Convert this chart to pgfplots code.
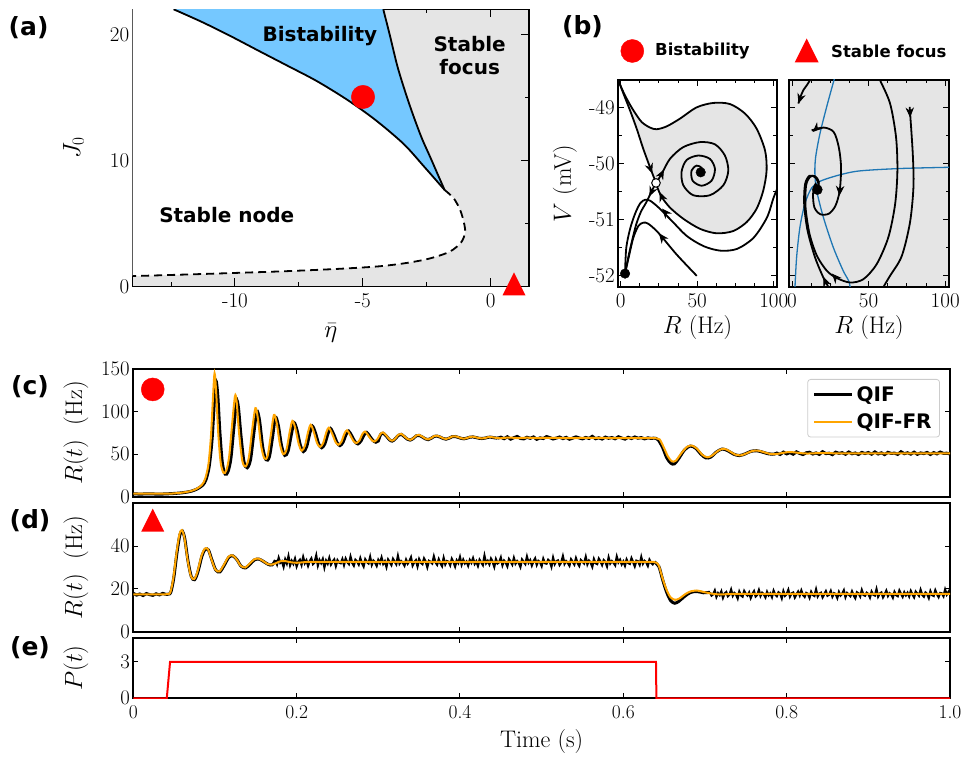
\documentclass[border=0pt]{standalone}
\usepackage{fontspec}
\usepackage{pgfplots}
\usepackage{pgfplotstable}
\pgfplotsset{compat=1.18}
\usetikzlibrary{arrows.meta}

\newfontfamily\labfont{DejaVu Sans}
\newcommand{\panelfont}{\labfont\bfseries\fontsize{25}{30}\selectfont}
\newcommand{\regionfont}{\labfont\bfseries\fontsize{20}{24}\selectfont}
\newcommand{\keyfont}{\labfont\bfseries\fontsize{16.5}{20}\selectfont}
\newcommand{\legfont}{\labfont\bfseries\fontsize{20}{24}\selectfont}
\newcommand{\ticksA}{\fontsize{21}{25}\selectfont}
\newcommand{\ticksC}{\fontsize{19.5}{23}\selectfont}
\newcommand{\axlab}{\fontsize{24}{28}\selectfont}

\definecolor{bistab}{RGB}{117,200,255}
\definecolor{basin}{RGB}{229,229,229}
\definecolor{qiffr}{RGB}{255,165,0}
\definecolor{ncl}{RGB}{31,119,180}

% upward triangle as wide as it is tall
\pgfdeclareplotmark{tri}{%
  \pgfpathmoveto{\pgfqpoint{0pt}{\pgfplotmarksize}}%
  \pgfpathlineto{\pgfqpoint{-\pgfplotmarksize}{-\pgfplotmarksize}}%
  \pgfpathlineto{\pgfqpoint{\pgfplotmarksize}{-\pgfplotmarksize}}%
  \pgfpathclose\pgfusepathqfill}

% flow-direction heads: short quiver segments
\pgfplotsset{heads/.style={black, line width=1pt, -{Stealth[length=10pt,width=8.5pt]},
  quiver={u=\thisrow{u}, v=\thisrow{v}}}}

% ---------- phase diagram boundaries (eta, J0) ----------
\pgfplotstableread{
eta J
-12.4 22
-11.3 21.0
-10.2 19.9
-9.07 18.7
-7.93 17.5
-6.8 16.3
-5.6 14.8
-4.5 13.2
-3.4 11.3
-2.6 9.5
-1.8 7.65
}\snbranch

\pgfplotstableread{
eta J
-1.8 7.65
-1.45 7.0
-1.2 6.1
-1.05 5.1
-1.0 4.3
-1.15 3.5
-1.6 2.75
-2.4 2.2
-3.3 1.85
-4.4 1.58
-6 1.38
-8 1.2
-10 1.06
-12 0.93
-14 0.81
}\dashbranch

\pgfplotstableread{
eta J
-4.2 22
-3.95 20
-3.65 17.5
-3.35 15.5
-3.05 13.7
-2.7 11.8
-2.35 10.2
-2.05 8.8
-1.8 7.65
}\focusedge

% ---------- stable manifold of the saddle (R, V) ----------
\pgfplotstableread{
R V
-1.5 -48.5
1.8 -48.74
6.1 -49.04
10.5 -49.37
14.8 -49.73
19.2 -50.06
21.3 -50.21
23.1 -50.34
}\sepa

\pgfplotstableread{
R V
-1.5 -48.5
0.7 -48.65
3.9 -48.83
8.3 -49.04
13.7 -49.25
19.2 -49.35
23.5 -49.38
30 -49.33
38.8 -49.19
49.6 -48.99
60.5 -48.91
71.4 -48.93
81.2 -49.1
88.8 -49.37
94.3 -49.76
95.3 -50.12
93.1 -50.48
88.8 -50.8
82.3 -51.04
73.5 -51.2
62.7 -51.24
51.8 -51.16
40.9 -50.98
32.2 -50.78
26.8 -50.59
24 -50.42
23.1 -50.34
}\sepb

\begin{document}
\begin{tikzpicture}
\useasboundingbox (0,0) rectangle (967pt,758pt);

% ================= (a) =================
\begin{axis}[scale only axis, anchor=south west, at={(132.7pt,471.7pt)},
  width=396.3pt, height=277pt,
  xmin=-14, xmax=1.5, ymin=0, ymax=22,
  xtick={-10,-5,0}, xticklabels={-10,-5,0}, minor xtick={-12.5,-7.5,-2.5},
  ytick={0,10,20}, yticklabels={0,10,20}, minor ytick={5,15},
  major tick length=8pt, minor tick length=4pt, tick style={black,line width=1pt},
  axis line style={line width=1.3pt},
  axis background/.style={fill=basin},
  tick label style={font=\ticksA},
  xticklabel style={yshift=-4pt},
  xlabel={$\bar{\eta}$}, ylabel={$J_0$},
  label style={font=\axlab},
  xlabel style={at={(axis description cs:0.5,-0.169)}, anchor=center},
  ylabel style={at={(axis description cs:-0.1496,0.5)}, anchor=center},
]
% stable node region
\addplot[fill=white, draw=none, smooth] coordinates {
(-12.95,22.5)(-12.4,22)(-11.3,21.0)(-10.2,19.9)(-9.07,18.7)(-7.93,17.5)(-6.8,16.3)
(-5.6,14.8)(-4.5,13.2)(-3.4,11.3)(-2.6,9.5)(-1.8,7.65)(-1.45,7.0)(-1.2,6.1)(-1.05,5.1)
(-1.0,4.3)(-1.15,3.5)(-1.6,2.75)(-2.4,2.2)(-3.3,1.85)(-4.4,1.58)(-6,1.38)(-8,1.2)
(-10,1.06)(-12,0.93)(-14,0.81)(-15,0.74)(-16,0.68)(-16.5,23.5)(-13.5,23.5)};
% bistable region
\addplot[fill=bistab, draw=none, smooth] coordinates {
(-12.95,22.5)(-12.4,22)(-11.3,21.0)(-10.2,19.9)(-9.07,18.7)(-7.93,17.5)(-6.8,16.3)
(-5.6,14.8)(-4.5,13.2)(-3.4,11.3)(-2.6,9.5)(-1.8,7.65)(-2.05,8.8)(-2.35,10.2)(-2.7,11.8)
(-3.05,13.7)(-3.35,15.5)(-3.65,17.5)(-3.95,20)(-4.2,22)(-4.26,22.5)(-4.3,23.5)(-13.5,23.5)};
\addplot[black, line width=1.8pt, smooth] table {\snbranch};
\addplot[black, line width=1.8pt, smooth] table {\focusedge};
\addplot[black, line width=1.8pt, smooth, dash pattern=on 8pt off 5pt] table {\dashbranch};
\node[font=\regionfont] at (axis cs:-6.68,19.88) {Bistability};
\node[font=\regionfont, align=center] at (axis cs:-0.82,18.35) {Stable\\[-1pt]focus};
\node[font=\regionfont] at (axis cs:-10.32,5.66) {Stable node};
\end{axis}

% ================= (b) left: bistable case =================
\begin{axis}[scale only axis, anchor=south west, at={(618.3pt,471pt)},
  width=158.4pt, height=207pt,
  xmin=-1.5, xmax=101.9, ymin=-52.2, ymax=-48.5,
  xtick={0,50,100}, xticklabels={0,50,100},
  minor xtick={12.5,25,37.5,62.5,75,87.5},
  ytick={-52,-51,-50,-49}, yticklabels={-52,-51,-50,-49},
  minor ytick={-51.5,-50.5,-49.5},
  major tick length=6pt, minor tick length=3.5pt, tick style={black,line width=1pt},
  axis line style={line width=1.8pt},
  tick label style={font=\ticksA},
  xticklabel style={yshift=-3pt},
  xlabel={$R$ (Hz)}, ylabel={$V$ (mV)}, label style={font=\axlab},
  xlabel style={at={(axis description cs:0.5,-0.198)}, anchor=center},
  ylabel style={at={(axis description cs:-0.3365,0.5)}, anchor=center},
]
% basin of the focus, bounded by the stable manifold of the saddle
\addplot[fill=basin, draw=none, smooth] coordinates {
(-1.5,-48.5)(0.7,-48.65)(3.9,-48.83)(8.3,-49.04)(13.7,-49.25)(19.2,-49.35)(23.5,-49.38)
(30,-49.33)(38.8,-49.19)(49.6,-48.99)(60.5,-48.91)(71.4,-48.93)(81.2,-49.1)(88.8,-49.37)
(94.3,-49.76)(95.3,-50.12)(93.1,-50.48)(88.8,-50.8)(82.3,-51.04)(73.5,-51.2)(62.7,-51.24)
(51.8,-51.16)(40.9,-50.98)(32.2,-50.78)(26.8,-50.59)(24,-50.42)(23.1,-50.34)
(21.3,-50.21)(19.2,-50.06)(14.8,-49.73)(10.5,-49.37)(6.1,-49.04)(1.8,-48.74)};
\addplot[black, line width=1.8pt, smooth] table {\sepa};
\addplot[black, line width=1.8pt, smooth] table {\sepb};
% unstable manifold: into the focus
\addplot[black, line width=1.8pt, smooth] coordinates {
(23.1,-50.34)(26.8,-50.18)(32.2,-49.91)(40.9,-49.7)(51.8,-49.61)(61.6,-49.65)
(68.1,-49.85)(70.3,-50.12)(67.1,-50.38)(58.3,-50.56)(47.4,-50.56)(40.9,-50.38)
(39.8,-50.14)(43.1,-49.93)(50.7,-49.85)(58.3,-49.91)(61.6,-50.09)(59.4,-50.3)
(52.9,-50.39)(47,-50.3)(46.3,-50.12)(49.6,-50.03)(52.9,-50.07)(52.3,-50.15)};
% unstable manifold: into the node
\addplot[black, line width=1.8pt, smooth] coordinates {
(23.1,-50.34)(21,-50.45)(19.2,-50.55)(16.5,-50.7)(13.2,-50.86)(10.2,-51.08)
(7.6,-51.36)(5.4,-51.62)(3.9,-51.82)(2.9,-51.96)};
% trajectories from the lower right
\addplot[black, line width=1.8pt, smooth] coordinates {
(103,-50.4)(99.9,-50.6)(95.5,-50.96)(86.8,-51.32)(75.9,-51.52)(65,-51.55)
(54.2,-51.47)(43.3,-51.29)(33.5,-51.02)(24.8,-50.78)(19.4,-50.66)(16.1,-50.64)
(12.9,-50.7)(9.6,-50.88)(6.3,-51.15)(3.7,-51.5)(2.9,-51.96)};
\addplot[black, line width=1.8pt, smooth] coordinates {
(49.7,-52.0)(36.6,-51.62)(24.6,-51.23)(18.1,-51.07)(14.8,-51.05)(11.6,-51.11)
(8.3,-51.32)(5.7,-51.62)(2.9,-51.96)};
\addplot[heads] table {
x y u v
19.3 -50.07 1.3 -0.1
27.0 -50.60 -1.6 0.1
26.6 -50.19 1.7 0.09
20.3 -50.49 -1.5 -0.09
29.0 -50.86 -1.9 0.06
27.0 -51.31 -2.0 0.07
};
\addplot[only marks, mark=*, mark size=4.8pt, black] coordinates {(52.3,-50.15)(2.9,-51.96)};
\addplot[only marks, mark=*, mark size=4.3pt, draw=black, fill=white, line width=1pt]
  coordinates {(23.1,-50.34)};
\end{axis}

% ================= (b) right: stable focus =================
\begin{axis}[scale only axis, anchor=south west, at={(789pt,471pt)},
  width=160pt, height=207pt,
  xmin=-2, xmax=102.5, ymin=-52.2, ymax=-48.5,
  xtick={0,50,100}, xticklabels={0,50,100},
  minor xtick={12.5,25,37.5,62.5,75,87.5},
  ytick={-52,-51,-50,-49}, yticklabels={},
  minor ytick={-51.5,-50.5,-49.5},
  major tick length=6pt, minor tick length=3.5pt, tick style={black,line width=1pt},
  axis line style={line width=1.8pt},
  axis background/.style={fill=basin},
  tick label style={font=\ticksA},
  xticklabel style={yshift=-3pt},
  xlabel={$R$ (Hz)}, label style={font=\axlab},
  xlabel style={at={(axis description cs:0.5,-0.198)}, anchor=center},
]
% nullclines
\addplot[ncl, line width=1.3pt, smooth] coordinates {
(28.5,-48.4)(27.4,-48.5)(22.6,-48.98)(18.2,-49.46)(15.4,-49.88)(14.9,-50.17)
(16,-50.47)(20.4,-50.95)(26.9,-51.49)(33.4,-51.91)(37.1,-52.1)(38.5,-52.3)};
\addplot[ncl, line width=1.3pt, smooth] coordinates {
(1.6,-52.4)(1.9,-52.2)(3,-51.66)(5.2,-51.12)(8.5,-50.7)(12.8,-50.43)(18.3,-50.31)
(29.2,-50.21)(40.1,-50.14)(51,-50.11)(72.7,-50.08)(103,-50.06)};
% trajectories
\addplot[black, line width=1.8pt, smooth] coordinates {
(12.6,-48.4)(11.7,-48.5)(9.5,-48.6)(7.4,-48.68)(5.5,-48.8)(4.1,-48.92)};
\addplot[black, line width=1.8pt, smooth] coordinates {
(56,-48.4)(57.4,-48.5)(64,-48.92)(67.9,-49.52)(68.8,-50.12)(67.3,-50.72)(62.9,-51.31)
(55.3,-51.79)(46.6,-52.06)(37.9,-52.12)(29.2,-52.04)(22.7,-51.91)(16.2,-51.64)
(11.4,-51.25)(8.8,-50.77)(9.2,-50.38)(11.9,-50.23)(15.1,-50.22)(17.5,-50.32)(16.5,-50.46)};
\addplot[black, line width=1.8pt, smooth] coordinates {
(24.5,-52.3)(23.7,-52.2)(20.4,-52.03)(15,-51.67)(10.1,-51.19)(7.9,-50.72)(8.5,-50.36)
(11.4,-50.21)(15.1,-50.24)(17.3,-50.36)(16.5,-50.46)};
\addplot[black, line width=1.8pt, smooth] coordinates {
(76.8,-48.98)(78.8,-49.8)(79.3,-50.4)(77,-51.05)(71.6,-51.65)(64,-52.0)(59.7,-52.2)(58.5,-52.3)};
\addplot[black, line width=1.8pt, smooth] coordinates {
(12.8,-49.4)(20.7,-49.35)(27.2,-49.43)(30.5,-49.7)(32,-50.06)(31.1,-50.48)(28.3,-50.75)
(24,-50.89)(18.5,-50.9)(14.6,-50.78)(13.7,-50.54)(15.3,-50.36)(16.5,-50.46)};
\addplot[heads] table {
x y u v
5.6 -48.8 -1.4 -0.12
28.0 -52.02 -2.0 0.06
22.0 -52.12 -1.5 0.1
76.9 -49.02 0.2 -0.15
15.0 -49.39 -1.6 -0.04
31.3 -50.42 -0.35 -0.15
};
\addplot[only marks, mark=*, mark size=5pt, black] coordinates {(16.5,-50.46)};
\end{axis}

% ================= (c) =================
\begin{axis}[scale only axis, anchor=south west, at={(133.3pt,261.3pt)},
  width=816.7pt, height=127.7pt,
  xmin=0, xmax=1, ymin=0, ymax=150,
  xtick={0,0.2,0.4,0.6,0.8,1}, xticklabels={},
  ytick={0,50,100,150},
  major tick length=5pt, tick style={black,line width=1pt},
  axis line style={line width=2pt},
  tick label style={font=\ticksC},
  ylabel={$R(t)\ \ (\mathrm{Hz})$}, label style={font=\axlab},
  ylabel style={at={(axis description cs:-0.0702,0.5)}, anchor=center},
  legend cell align=left,
  legend image code/.code={\draw[#1, line cap=butt] (0pt,0pt) -- (38pt,0pt);},
  legend style={at={(axis description cs:0.9877,0.9217)}, anchor=north east,
    draw=black!20, line width=0.8pt, rounded corners=3pt, fill=white,
    font=\legfont, inner xsep=5pt, inner ysep=4pt, row sep=5pt,
    nodes={inner sep=3pt}},
]
\addplot[black, line width=3pt, smooth, tension=0.5] coordinates {
(0,3.3)(0.01,3.1)(0.02,3.4)(0.03,3.0)(0.04,3.3)(0.05,3.8)(0.06,4.6)(0.07,6.2)(0.078,9)
(0.085,13.5)(0.089,20)(0.093,36)(0.0965,68)(0.099,108)(0.1012,136)(0.1035,118)(0.106,76)
(0.109,40)(0.1125,26.5)(0.116,29.5)(0.1195,45)(0.123,80)(0.1265,112)(0.1288,104)
(0.1318,72)(0.1355,41)(0.1395,34)(0.1435,43.5)(0.1475,74)(0.1512,100)(0.1545,90)
(0.1585,58)(0.1625,43.5)(0.1665,46.5)(0.1705,70)(0.174,93)(0.1775,84)(0.1815,60)
(0.1855,48.5)(0.1895,53.5)(0.1935,73)(0.1968,87)(0.2005,78)(0.2045,60.5)(0.2082,53)
(0.2122,58.5)(0.216,74)(0.2192,83)(0.223,75)(0.227,62)(0.2307,57.5)(0.2345,62)
(0.2385,74.5)(0.2415,80)(0.2455,73)(0.2495,63.5)(0.253,60)(0.2568,64)(0.2605,73)
(0.2637,77)(0.2675,71.5)(0.2715,64.5)(0.275,62)(0.2788,65.5)(0.2825,72.5)(0.2858,75.5)
(0.2896,71)(0.2935,66)(0.297,64)(0.3,65.5)(0.3025,72.5)(0.3058,74.5)(0.3096,71.5)
(0.3135,67)(0.317,65.3)(0.3208,68)(0.3245,72)(0.328,73.2)(0.3318,70.6)(0.3355,67.6)
(0.339,66.5)(0.3428,68.4)(0.3465,71.5)(0.35,72)(0.3538,70.2)(0.3575,68)(0.361,67)
(0.3648,68.6)(0.3685,70.9)(0.372,71.2)(0.3758,70)(0.3795,68.3)(0.383,67.6)(0.3868,68.8)
(0.3905,70.5)(0.394,70.7)(0.3978,69.7)(0.4015,68.5)(0.405,68)(0.4088,68.9)(0.4125,70)
(0.416,70.2)(0.42,69.4)(0.4235,68.6)(0.427,68.3)(0.431,68.9)(0.4345,69.8)(0.438,69.9)
(0.442,69.2)(0.446,68.7)};
\addlegendentry{QIF}
\addplot[black, line width=3pt, forget plot] coordinates {
(0.446,68.7)(0.450,69.9)(0.454,68.1)(0.458,70.4)(0.462,67.6)(0.466,69.3)(0.470,70.8)
(0.474,68.4)(0.478,67.9)(0.482,69.8)(0.486,68.6)(0.490,70.2)(0.494,67.4)(0.498,69.1)
(0.502,68.3)(0.506,70.6)(0.510,69.4)(0.514,67.8)(0.518,68.9)(0.522,70.1)(0.526,68.2)
(0.530,69.7)(0.534,67.5)(0.538,68.8)(0.542,70.3)(0.546,69.0)(0.550,67.9)(0.554,69.6)
(0.558,68.4)(0.562,70.9)(0.566,68.1)(0.570,69.2)(0.574,67.7)(0.578,70.0)(0.582,68.6)
(0.586,69.5)(0.590,68.0)(0.594,70.4)(0.598,68.9)(0.602,67.6)(0.606,69.8)(0.610,68.3)
(0.614,70.2)(0.618,68.7)(0.622,69.4)(0.626,67.9)(0.630,69.1)(0.634,68.5)(0.638,68.8)};
\addplot[black, line width=3pt, smooth, tension=0.5, forget plot] coordinates {
(0.638,68.8)(0.6425,67)(0.648,58)(0.653,46)(0.658,39.5)(0.6625,38.5)(0.668,45)(0.675,55)
(0.682,59.5)(0.6885,57)(0.695,50)(0.701,45.5)(0.707,46.5)(0.714,52.5)(0.721,56)(0.728,54)
(0.735,50)(0.742,48.3)(0.749,50.2)(0.756,53.2)(0.763,54)(0.770,52.5)(0.777,50.5)(0.784,49.8)};
\addplot[black, line width=3pt, forget plot] coordinates {
(0.784,49.8)(0.788,51.2)(0.792,49.6)(0.796,52.4)(0.800,50.3)(0.804,51.8)(0.808,49.9)
(0.812,52.7)(0.816,50.8)(0.820,49.5)(0.824,51.6)(0.828,52.2)(0.832,50.1)(0.836,51.4)
(0.840,49.7)(0.844,52.9)(0.848,50.6)(0.852,51.1)(0.856,49.4)(0.860,52.3)(0.864,50.9)
(0.868,51.7)(0.872,49.8)(0.876,52.5)(0.880,50.4)(0.884,51.3)(0.888,49.6)(0.892,52.0)
(0.896,50.7)(0.900,51.9)(0.904,49.9)(0.908,52.6)(0.912,50.2)(0.916,51.5)(0.920,49.5)
(0.924,52.1)(0.928,50.8)(0.932,51.2)(0.936,49.7)(0.940,52.8)(0.944,50.5)(0.948,51.6)
(0.952,50.0)(0.956,52.3)(0.960,49.8)(0.964,51.4)(0.968,50.6)(0.972,52.0)(0.976,49.6)
(0.980,51.8)(0.984,50.3)(0.988,52.4)(0.992,50.9)(0.996,51.1)(1.000,50.2)};
\addplot[qiffr, line width=2pt, smooth, tension=0.5] coordinates {
(0,3.5)(0.04,3.5)(0.05,3.9)(0.06,4.8)(0.07,6.5)(0.078,9.5)(0.084,14)(0.088,21)(0.092,38)
(0.095,70)(0.0975,115)(0.0995,145)(0.1015,122)(0.104,75)(0.107,40)(0.1105,28)(0.114,31)
(0.1175,48)(0.121,85)(0.1245,118)(0.1265,112)(0.1295,75)(0.1335,42)(0.1375,35.5)
(0.1415,46)(0.1455,78)(0.1495,104)(0.1525,92)(0.1565,60)(0.1605,45)(0.1645,48)(0.1685,73)
(0.1722,96)(0.1755,87)(0.1795,62)(0.1835,50)(0.1875,55)(0.1915,76)(0.1948,89)(0.1985,80)
(0.2025,62)(0.2062,54)(0.2102,60)(0.2140,76)(0.2172,84.5)(0.2210,76)(0.2250,63)
(0.2287,58.5)(0.2325,63)(0.2365,76)(0.2395,81)(0.2435,74)(0.2475,64.5)(0.2510,61)
(0.2548,64.5)(0.2585,74)(0.2617,78)(0.2655,72.5)(0.2695,65.5)(0.2730,63)(0.2768,66)
(0.2805,73.5)(0.2838,76.5)(0.2876,72)(0.2915,67)(0.2950,64.8)(0.2988,67.5)(0.3025,73.5)
(0.3058,75.5)(0.3096,72)(0.3135,67.5)(0.317,65.8)(0.3208,68.3)(0.3245,72.8)(0.328,73.8)
(0.3318,71)(0.3355,68)(0.339,66.8)(0.3428,68.6)(0.3465,72)(0.35,72.6)(0.3538,70.6)
(0.3575,68.2)(0.361,67.3)(0.3648,68.8)(0.3685,71.3)(0.372,71.7)(0.3758,70.3)(0.3795,68.5)
(0.383,67.8)(0.3868,69)(0.3905,70.8)(0.394,71)(0.3978,70)(0.4015,68.7)(0.405,68.1)
(0.4088,69)(0.4125,70.3)(0.416,70.5)(0.42,69.6)(0.4235,68.8)(0.427,68.4)(0.431,69)
(0.4345,70)(0.438,70.1)(0.442,69.4)(0.449,68.6)(0.46,69.5)(0.471,68.8)(0.482,69.3)
(0.493,68.9)(0.51,69.1)(0.53,68.9)(0.56,69)(0.59,68.9)(0.615,68.9)(0.63,68.9)(0.637,68.9)
(0.6405,68.6)(0.6445,67.3)(0.6495,58)
(0.6545,47.5)(0.6595,41.5)(0.6645,42.5)(0.671,51)(0.678,58.5)(0.684,60)(0.690,56.5)
(0.697,49)(0.703,46.3)(0.709,48.5)(0.716,54)(0.723,56.4)(0.730,53.5)(0.737,49.5)
(0.744,48.6)(0.751,51)(0.758,53.7)(0.765,54.1)(0.772,52.3)(0.779,50.4)(0.786,50)
(0.793,51)(0.8,52.2)(0.807,52.3)(0.815,51.4)(0.825,50.7)(0.84,51.2)(0.86,51)(0.9,51)(1.0,51)};
\addlegendentry{QIF-FR}
\addplot[only marks, mark=*, mark size=11.5pt, red, forget plot] coordinates {(0.0238,126)};
\end{axis}

% ================= (d) =================
\begin{axis}[scale only axis, anchor=south west, at={(133.3pt,126.3pt)},
  width=816.7pt, height=128.4pt,
  xmin=0, xmax=1, ymin=0, ymax=60,
  xtick={0,0.2,0.4,0.6,0.8,1}, xticklabels={},
  ytick={0,20,40},
  major tick length=5pt, tick style={black,line width=1pt},
  axis line style={line width=2pt},
  tick label style={font=\ticksC},
  ylabel={$R(t)\ \ (\mathrm{Hz})$}, label style={font=\axlab},
  ylabel style={at={(axis description cs:-0.0702,0.5)}, anchor=center},
]
\addplot[black, line width=3pt] coordinates {
(0,17.9)(0.004,17.1)(0.008,17.6)(0.012,16.9)(0.016,17.8)(0.02,17.3)(0.024,17.0)(0.028,17.7)
(0.032,17.2)(0.036,17.9)(0.04,17.4)};
\addplot[black, line width=3pt, smooth, tension=0.5] coordinates {
(0.04,17.4)(0.0435,17.6)(0.046,18.5)(0.0495,25)(0.0535,37)(0.057,45.2)(0.06,47)(0.063,43.5)
(0.067,33)(0.071,25.8)(0.075,24.3)(0.079,27.8)(0.084,35.3)(0.088,38.5)(0.092,38.2)(0.096,33.8)
(0.101,28.8)(0.106,28)(0.111,30.8)(0.117,34.8)(0.122,35.4)(0.127,33.6)(0.132,30.6)
(0.1375,29.8)(0.143,31.6)(0.1485,33.6)(0.154,33.9)(0.1595,32.8)(0.165,31.5)(0.17,31.2)(0.174,33.4)};
\addplot[black, line width=2.2pt] coordinates {
(0.174,33.4)(0.176,31.5)(0.178,34.5)(0.180,32.2)(0.182,32.9)(0.184,30.4)(0.186,33.8)(0.188,31.9)(0.190,35.2)(0.192,31.1)
(0.194,33.1)(0.196,31.7)(0.198,34.0)(0.200,30.6)(0.202,32.7)(0.204,33.6)(0.206,31.3)(0.208,34.8)(0.210,32.0)(0.212,33.3)
(0.214,30.8)(0.216,33.0)(0.218,34.2)(0.220,31.6)(0.222,32.4)(0.224,35.5)(0.226,31.0)(0.228,33.5)(0.230,32.1)(0.232,33.9)
(0.234,30.1)(0.236,33.2)(0.238,31.8)(0.240,34.4)(0.242,31.4)(0.244,32.8)(0.246,33.7)(0.248,30.7)(0.250,33.4)(0.252,32.3)
(0.254,32.0)(0.256,33.9)(0.258,31.2)(0.260,34.1)(0.262,32.5)(0.264,31.6)(0.266,35.0)(0.268,32.2)(0.270,30.9)(0.272,33.6)
(0.274,32.8)(0.276,31.4)(0.278,34.3)(0.280,32.0)(0.282,30.5)(0.284,33.8)(0.286,32.6)(0.288,31.9)(0.290,34.9)(0.292,31.3)
(0.294,33.2)(0.296,32.4)(0.298,30.8)(0.300,33.5)(0.302,32.1)(0.304,34.6)(0.306,31.7)(0.308,32.9)(0.310,30.3)(0.312,33.7)
(0.314,32.5)(0.316,31.2)(0.318,34.0)(0.320,32.7)(0.322,31.5)(0.324,35.3)(0.326,31.8)(0.328,33.0)(0.330,32.2)(0.332,30.9)
(0.334,33.6)(0.336,31.8)(0.338,32.9)(0.340,34.7)(0.342,31.0)(0.344,32.5)(0.346,33.4)(0.348,30.6)(0.350,33.9)(0.352,32.3)
(0.354,31.6)(0.356,34.2)(0.358,32.8)(0.360,30.2)(0.362,33.1)(0.364,32.6)(0.366,31.9)(0.368,35.1)(0.370,32.4)(0.372,31.3)
(0.374,33.8)(0.376,32.0)(0.378,30.7)(0.380,34.4)(0.382,31.5)(0.384,33.0)(0.386,32.7)(0.388,31.1)(0.390,34.0)(0.392,32.5)
(0.394,30.5)(0.396,33.3)(0.398,32.1)(0.400,34.8)(0.402,31.4)(0.404,33.6)(0.406,31.9)(0.408,32.8)(0.410,30.9)(0.412,33.5)
(0.414,32.2)(0.416,34.3)(0.418,31.7)(0.420,32.9)(0.422,30.8)(0.424,33.6)(0.426,32.4)(0.428,31.2)(0.430,35.4)(0.432,32.0)
(0.434,33.1)(0.436,31.5)(0.438,34.1)(0.440,32.7)(0.442,30.4)(0.444,33.8)(0.446,31.9)(0.448,32.5)(0.450,34.6)(0.452,31.1)
(0.454,33.2)(0.456,32.3)(0.458,30.6)(0.460,33.9)(0.462,32.8)(0.464,31.4)(0.466,34.4)(0.468,31.8)(0.470,33.0)(0.472,32.1)
(0.474,30.3)(0.476,33.7)(0.478,32.6)(0.480,31.6)(0.482,35.0)(0.484,32.2)(0.486,33.4)(0.488,31.0)(0.490,32.9)(0.492,34.2)
(0.494,31.3)(0.496,33.1)(0.498,32.5)(0.500,30.7)(0.502,34.0)(0.504,32.0)(0.506,31.8)(0.508,33.6)(0.510,32.8)(0.512,30.5)
(0.514,34.5)(0.516,31.6)(0.518,32.9)(0.520,33.3)(0.522,31.2)(0.524,32.4)(0.526,35.2)(0.528,31.7)(0.530,33.0)(0.532,32.2)
(0.534,30.9)(0.536,33.8)(0.538,32.6)(0.540,31.4)(0.542,34.3)(0.544,32.1)(0.546,30.8)(0.548,33.5)(0.550,32.7)(0.552,31.9)
(0.554,34.9)(0.556,31.5)(0.558,33.2)(0.560,32.3)(0.562,30.4)(0.564,33.9)(0.566,32.0)(0.568,31.6)(0.570,34.1)(0.572,32.8)
(0.574,31.2)(0.576,33.4)(0.578,32.6)(0.580,30.6)(0.582,34.6)(0.584,31.9)(0.586,33.0)(0.588,32.2)(0.590,31.1)(0.592,35.0)
(0.594,32.4)(0.596,33.6)(0.598,31.5)(0.600,32.8)(0.602,30.9)(0.604,33.7)(0.606,32.1)(0.608,31.7)(0.610,34.3)(0.612,32.5)
(0.614,30.6)(0.616,33.2)(0.618,32.9)(0.620,31.3)(0.622,34.8)(0.624,31.8)(0.626,33.1)(0.628,32.4)(0.630,30.8)(0.632,33.6)
(0.634,32.2)(0.636,31.5)(0.638,32.6)};
\addplot[black, line width=3pt, smooth, tension=0.5] coordinates {
(0.638,32.6)(0.6435,30.5)(0.648,24.5)(0.653,18.5)(0.658,14.5)(0.663,13.3)(0.668,14.2)
(0.675,16.5)(0.682,18.3)(0.69,18.8)(0.698,18.2)(0.706,18.4)};
\addplot[black, line width=2.2pt] coordinates {
(0.706,18.4)(0.708,16.9)(0.710,17.5)(0.712,19.2)(0.714,16.3)(0.716,18.0)(0.718,17.1)(0.720,18.8)(0.722,15.9)(0.724,17.8)
(0.726,18.5)(0.728,16.6)(0.730,17.3)(0.732,19.6)(0.734,16.8)(0.736,18.1)(0.738,17.4)(0.740,15.6)(0.742,18.7)(0.744,17.0)
(0.746,16.4)(0.748,19.0)(0.750,17.7)(0.752,16.9)(0.754,18.3)(0.756,15.8)(0.758,17.6)(0.760,18.9)(0.762,16.5)(0.764,17.2)
(0.766,19.4)(0.768,16.7)(0.770,18.2)(0.772,17.5)(0.774,16.1)(0.776,18.6)(0.778,17.0)(0.780,17.9)(0.782,16.2)(0.784,19.1)
(0.786,17.3)(0.788,16.6)(0.790,18.4)(0.792,17.8)(0.794,15.7)(0.796,18.9)(0.798,16.8)(0.800,17.6)(0.802,19.5)(0.804,16.4)
(0.806,17.9)(0.808,18.3)(0.810,16.0)(0.812,17.4)(0.814,18.7)(0.816,16.9)(0.818,19.2)(0.820,17.1)(0.822,16.3)(0.824,18.1)
(0.826,17.7)(0.828,15.9)(0.830,18.6)(0.832,17.2)(0.834,16.7)(0.836,19.7)(0.838,16.5)(0.840,17.8)(0.842,18.2)(0.844,16.1)
(0.846,17.5)(0.848,18.9)(0.850,16.8)(0.852,17.3)(0.854,19.0)(0.856,16.4)(0.858,18.0)(0.860,17.6)(0.862,15.8)(0.864,18.5)
(0.866,16.9)(0.868,17.7)(0.870,19.3)(0.872,16.2)(0.874,18.1)(0.876,17.4)(0.878,16.6)(0.880,18.8)(0.882,17.0)(0.884,15.7)
(0.886,18.4)(0.888,17.9)(0.890,16.5)(0.892,19.4)(0.894,17.2)(0.896,16.8)(0.898,18.2)(0.900,17.6)(0.902,16.0)(0.904,18.7)
(0.906,17.3)(0.908,16.9)(0.910,19.8)(0.912,16.4)(0.914,17.8)(0.916,18.3)(0.918,16.1)(0.920,17.5)(0.922,19.1)(0.924,16.7)
(0.926,18.0)(0.928,17.4)(0.930,15.9)(0.932,18.6)(0.934,17.1)(0.936,16.6)(0.938,19.2)(0.940,17.7)(0.942,16.3)(0.944,18.4)
(0.946,17.0)(0.948,18.2)(0.950,16.5)(0.952,19.0)(0.954,17.4)(0.956,16.1)(0.958,18.7)(0.960,17.8)(0.962,16.8)(0.964,19.5)
(0.966,17.2)(0.968,16.4)(0.970,18.3)(0.972,17.6)(0.974,15.8)(0.976,18.9)(0.978,17.1)(0.980,16.7)(0.982,19.3)(0.984,17.5)
(0.986,16.2)(0.988,18.1)(0.990,17.9)(0.992,16.6)(0.994,19.6)(0.996,17.3)(0.998,18.5)(1.000,19.7)};
\addplot[qiffr, line width=2pt, smooth, tension=0.5] coordinates {
(0,17.5)(0.02,17.5)(0.034,17.5)(0.04,17.5)(0.043,17.6)(0.0455,18.5)(0.049,25)(0.053,37)
(0.0565,45.5)(0.0595,47.5)(0.0625,44)
(0.0665,33.5)(0.0705,26)(0.0745,24.6)(0.0785,28)(0.0835,35.5)(0.0875,38.8)(0.0915,38.5)
(0.0955,34)(0.1005,29)(0.1055,28.2)(0.1105,31)(0.1165,35)(0.1215,35.7)(0.1265,33.8)
(0.1315,30.8)(0.137,30)(0.1425,31.8)(0.148,33.8)(0.1535,34.1)(0.159,33)(0.1645,31.6)
(0.169,31.3)(0.1745,32)(0.18,32.9)(0.186,33)(0.192,32.5)(0.2,32.2)(0.21,32.5)(0.22,32.6)
(0.3,32.6)(0.4,32.6)(0.5,32.6)(0.58,32.6)(0.615,32.6)(0.63,32.6)(0.637,32.6)(0.6405,32.2)
(0.6435,30.8)(0.648,25)(0.653,19.5)(0.658,16)(0.6635,14.9)(0.669,15.6)
(0.676,17.6)(0.683,18.9)(0.691,19.2)(0.699,18.5)(0.708,17.8)(0.718,17.4)(0.73,17.6)
(0.75,17.7)(0.8,17.7)(0.9,17.7)(1.0,17.7)};
\addplot[only marks, mark=tri, mark size=11.5pt, red] coordinates {(0.0238,52.1)};
\end{axis}

% ================= (e) =================
\begin{axis}[scale only axis, anchor=south west, at={(133.3pt,59.7pt)},
  width=816.7pt, height=60.6pt,
  xmin=0, xmax=1, ymin=0, ymax=5,
  xtick={0,0.2,0.4,0.6,0.8,1}, xticklabels={0,0.2,0.4,0.6,0.8,1.0},
  ytick={0,3},
  major tick length=5pt, tick style={black,line width=1pt},
  axis line style={line width=2pt},
  tick label style={font=\ticksC},
  xticklabel style={yshift=-4pt},
  xlabel={Time (s)}, ylabel={$P(t)$}, label style={font=\axlab},
  xlabel style={at={(axis description cs:0.5,-0.721)}, anchor=center},
  ylabel style={at={(axis description cs:-0.0702,0.5)}, anchor=center},
]
\addplot[red, line width=2pt] coordinates {(0,0)(0.041,0)(0.045,3)(0.64,3)(0.6405,0)(1,0)};
\end{axis}

% ================= markers on the phase diagram and key of (b) =================
\begin{axis}[scale only axis, anchor=south west, at={(0pt,0pt)},
  width=967pt, height=758pt, xmin=0, xmax=967, ymin=0, ymax=758,
  hide axis, clip=false]
\addplot[only marks, mark=*, mark size=11.7pt, red] coordinates {(363,661)};
\addplot[only marks, mark=tri, mark size=11.5pt, red] coordinates {(514,474.1)};
\addplot[only marks, mark=*, mark size=11.5pt, red] coordinates {(632.3,707)};
\addplot[only marks, mark=tri, mark size=12pt, red] coordinates {(806.7,707.5)};
\end{axis}

\node[font=\keyfont, anchor=west, inner sep=0pt] at (655pt,707pt) {Bistability};
\node[font=\keyfont, anchor=west, inner sep=0pt] at (831pt,707pt) {Stable focus};

\node[font=\panelfont] at (28.6pt,730.5pt) {(a)};
\node[font=\panelfont] at (582.5pt,731.3pt) {(b)};
\node[font=\panelfont] at (30pt,371.3pt) {(c)};
\node[font=\panelfont] at (30pt,237.2pt) {(d)};
\node[font=\panelfont] at (30pt,110.5pt) {(e)};
\end{tikzpicture}
\end{document}
